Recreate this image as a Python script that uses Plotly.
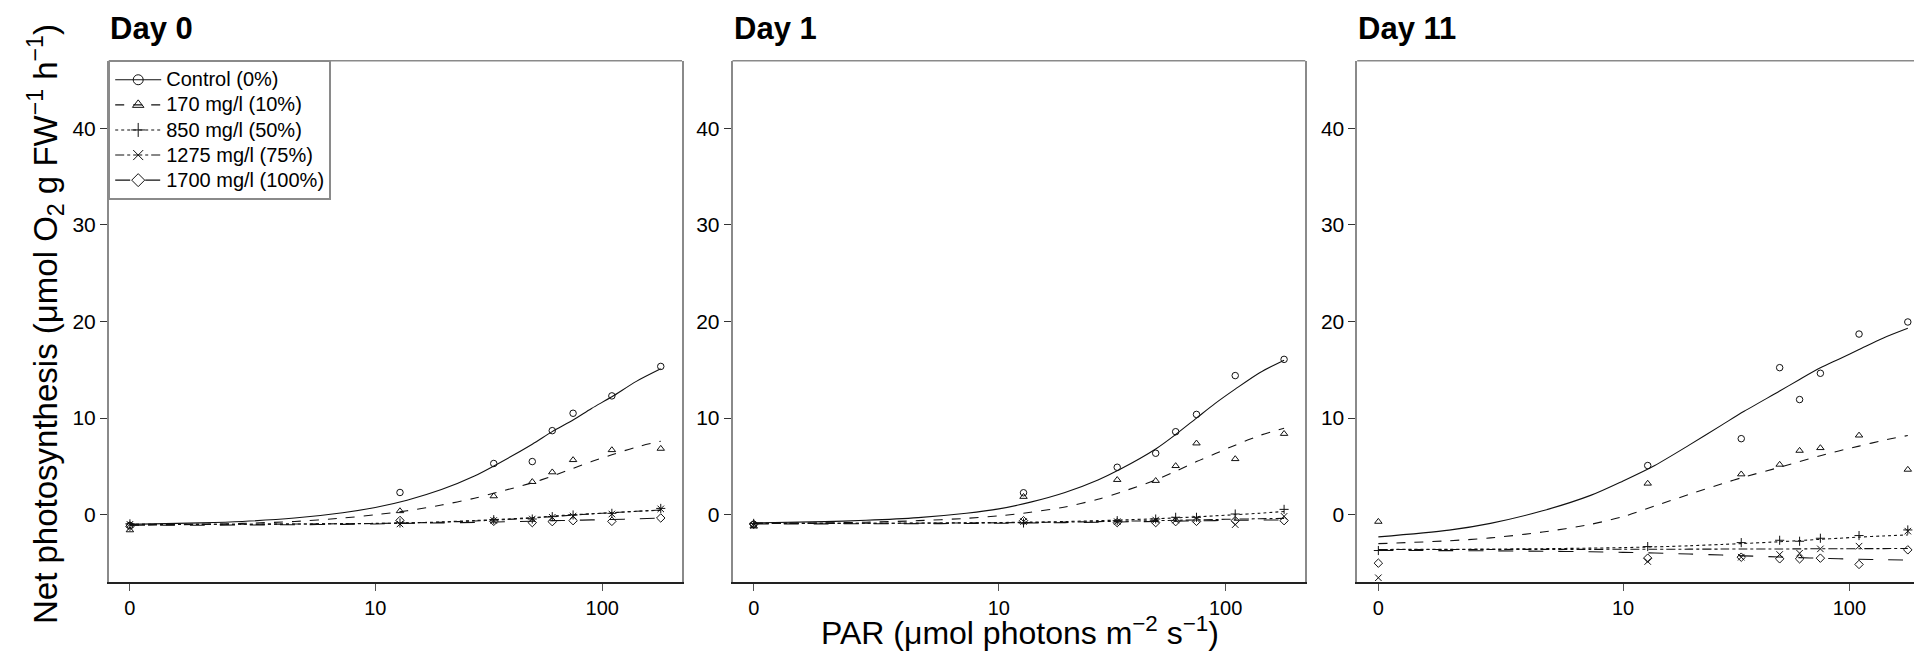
import plotly.graph_objects as go

# ---------------- data ----------------
DAYS = ["Day 0", "Day 1", "Day 11"]
SERIES = ["Control (0%)", "170 mg/l (10%)", "850 mg/l (50%)", "1275 mg/l (75%)", "1700 mg/l (100%)"]

# measured PAR levels (µmol photons m-2 s-1)
PAR_PTS = [0, 13, 34, 50, 61, 75, 110, 178]
# PAR levels at which the fitted curves are read
PAR_FIT = [0, 1, 2, 4, 7, 10, 14, 20, 28, 35, 50, 61, 75, 90, 110, 140, 178]

# observed net photosynthesis
d0_control = [-1.1, 2.3, 5.3, 5.5, 8.7, 10.5, 12.3, 15.35]
d0_c170 = [-1.6, 0.38, 1.92, 3.4, 4.4, 5.67, 6.7, 6.84]
d0_c850 = [-0.95, -0.86, -0.52, -0.45, -0.2, -0.03, 0.14, 0.65]
d0_c1275 = [-1.0, -0.96, -0.6, -0.45, -0.27, -0.14, 0.07, 0.6]
d0_c1700 = [-1.2, -0.6, -0.69, -0.82, -0.72, -0.62, -0.69, -0.34]

d1_control = [-1.0, 2.27, 4.91, 6.36, 8.59, 10.38, 14.4, 16.08]
d1_c170 = [-1.2, 1.86, 3.61, 3.51, 5.05, 7.39, 5.77, 8.38]
d1_c850 = [-0.9, -0.86, -0.62, -0.45, -0.27, -0.27, 0.07, 0.55]
d1_c1275 = [-1.1, -0.72, -0.72, -0.55, -0.55, -0.45, -1.03, -0.17]
d1_c1700 = [-1.0, -0.62, -0.82, -0.82, -0.72, -0.69, -0.62, -0.62]

d11_control = [None, 5.09, 7.87, 15.22, 11.92, 14.64, 18.7, 19.95]
d11_c170 = [-0.72, 3.23, 4.19, 5.19, 6.63, 6.91, 8.21, 4.67]
d11_c850 = [-3.71, -3.3, -2.89, -2.65, -2.75, -2.44, -2.16, -1.58]
d11_c1275 = [-6.53, -4.85, -4.4, -4.12, -3.99, -3.54, -3.26, -1.7]
d11_c1700 = [-5.02, -4.5, -4.4, -4.57, -4.57, -4.5, -5.15, -3.64]

# fitted curves
f0_control = [-1.0, -0.85, -0.7, -0.35, 0.2, 0.75, 1.5, 2.6, 4.0, 5.2, 7.3, 8.6, 9.8, 11.0, 12.2, 13.8, 15.1]
f0_c170 = [-1.1, -1.0, -0.9, -0.7, -0.35, 0.0, 0.4, 1.0, 1.7, 2.3, 3.3, 4.0, 4.8, 5.5, 6.2, 7.0, 7.6]
f0_c850 = [-1.0, -1.0, -0.99, -0.97, -0.93, -0.9, -0.85, -0.75, -0.6, -0.5, -0.3, -0.15, 0.0, 0.1, 0.2, 0.35, 0.45]
f0_c1275 = [-1.0, -1.0, -0.99, -0.97, -0.94, -0.91, -0.86, -0.78, -0.65, -0.55, -0.35, -0.2, -0.05, 0.08, 0.2, 0.35, 0.48]
f0_c1700 = [-1.1, -1.09, -1.07, -1.04, -1.0, -0.96, -0.9, -0.85, -0.8, -0.75, -0.68, -0.62, -0.58, -0.54, -0.5, -0.43, -0.35]

f1_control = [-0.85, -0.72, -0.58, -0.3, 0.15, 0.6, 1.3, 2.3, 3.6, 4.7, 6.8, 8.3, 10.0, 11.5, 13.0, 14.7, 16.0]
f1_c170 = [-0.9, -0.85, -0.78, -0.62, -0.38, -0.12, 0.25, 0.8, 1.6, 2.3, 3.6, 4.5, 5.5, 6.3, 7.2, 8.2, 8.95]
f1_c850 = [-0.9, -0.9, -0.89, -0.87, -0.84, -0.81, -0.77, -0.71, -0.62, -0.55, -0.42, -0.33, -0.22, -0.12, 0.0, 0.15, 0.33]
f1_c1275 = [-0.9, -0.9, -0.89, -0.88, -0.86, -0.84, -0.81, -0.77, -0.72, -0.68, -0.62, -0.58, -0.54, -0.5, -0.46, -0.42, -0.38]
f1_c1700 = [-0.95, -0.95, -0.94, -0.93, -0.91, -0.89, -0.86, -0.82, -0.78, -0.75, -0.7, -0.67, -0.64, -0.61, -0.58, -0.56, -0.54]

f11_control = [-2.3, -1.6, -0.9, 0.4, 2.0, 3.5, 5.1, 7.2, 9.3, 10.7, 12.8, 14.0, 15.2, 16.1, 17.1, 18.3, 19.3]
f11_c170 = [-3.0, -2.7, -2.4, -1.8, -1.0, -0.2, 0.9, 2.1, 3.2, 3.9, 4.9, 5.5, 6.1, 6.6, 7.1, 7.7, 8.2]
f11_c850 = [-3.6, -3.58, -3.56, -3.52, -3.46, -3.41, -3.33, -3.22, -3.08, -2.98, -2.8, -2.68, -2.55, -2.44, -2.32, -2.2, -2.1]
f11_c1275 = [-3.6, -3.6, -3.6, -3.59, -3.59, -3.58, -3.58, -3.57, -3.56, -3.56, -3.55, -3.54, -3.53, -3.53, -3.52, -3.51, -3.5]
f11_c1700 = [-3.7, -3.72, -3.74, -3.78, -3.84, -3.9, -3.97, -4.07, -4.18, -4.26, -4.38, -4.45, -4.51, -4.56, -4.61, -4.66, -4.7]

X_TICK_VALS = [0, 10, 100]
Y_TICK_VALS = [0, 10, 20, 30, 40]

OBS = [
    [d0_control, d0_c170, d0_c850, d0_c1275, d0_c1700],
    [d1_control, d1_c170, d1_c850, d1_c1275, d1_c1700],
    [d11_control, d11_c170, d11_c850, d11_c1275, d11_c1700],
]
FIT = [
    [f0_control, f0_c170, f0_c850, f0_c1275, f0_c1700],
    [f1_control, f1_c170, f1_c850, f1_c1275, f1_c1700],
    [f11_control, f11_c170, f11_c850, f11_c1275, f11_c1700],
]

# ---------------- style ----------------
FONT = "Liberation Sans, Arial, sans-serif"
SYMBOLS = ["circle-open", "triangle-up-open", "cross-thin-open", "x-thin-open", "diamond-open"]
DASHES = ["solid", "dash", "dot", "dashdot", "longdash"]
LINE_COL = "#111111"
BOX_COL = "#8a8a8a"

W, H = 1922, 651
X_DOMAINS = [(100.7 / W, 674.0 / W), (724.5 / W, 1297.3 / W), (1349.2 / W, 1921.0 / W)]
Y_DOMAIN = (1 - 574.3 / H, 1 - 52.7 / H)


def pseudo(v):
    # PAR plotted on a log axis with an offset of 1 so that 0 sits at the origin
    return [p + 1 for p in v]


fig = go.Figure()

for d in range(3):
    xa = "x" if d == 0 else f"x{d + 1}"
    ya = "y" if d == 0 else f"y{d + 1}"
    for s in range(5):
        fig.add_trace(go.Scatter(
            x=pseudo(PAR_FIT), y=FIT[d][s], mode="lines", xaxis=xa, yaxis=ya,
            line=dict(color=LINE_COL, width=1.1, dash=DASHES[s], shape="spline", smoothing=0.8),
            showlegend=False, hoverinfo="skip"))
        fig.add_trace(go.Scatter(
            x=pseudo(PAR_PTS), y=OBS[d][s], mode="markers", xaxis=xa, yaxis=ya,
            marker=dict(symbol=SYMBOLS[s], size=6.5, color=LINE_COL, line=dict(width=1, color=LINE_COL)),
            showlegend=False))

# legend entries (line + symbol samples)
for s in range(5):
    fig.add_trace(go.Scatter(
        x=[None], y=[None], mode="lines+markers",
        name=f'<span style="font-size:20px">{SERIES[s]}</span>',
        line=dict(color=LINE_COL, width=1.1, dash=DASHES[s]),
        marker=dict(symbol=SYMBOLS[s], size=10, color=LINE_COL, line=dict(width=1, color=LINE_COL)),
        showlegend=True))

axis_font = dict(family=FONT, size=20, color="black")
layout = dict(
    width=W, height=H,
    margin=dict(l=0, r=0, t=0, b=0),
    paper_bgcolor="white", plot_bgcolor="white",
    font=dict(family=FONT, color="black"),
    showlegend=True,
    legend=dict(
        x=X_DOMAINS[0][0], y=Y_DOMAIN[1], xanchor="left", yanchor="top",
        bgcolor="white", bordercolor=BOX_COL, borderwidth=1.5,
        font=dict(family=FONT, size=17, color="black"),
        itemsizing="trace", tracegroupgap=0, itemwidth=46,
    ),
)

shapes = []
annotations = []
for d in range(3):
    xkey = "xaxis" if d == 0 else f"xaxis{d + 1}"
    ykey = "yaxis" if d == 0 else f"yaxis{d + 1}"
    xref = "x" if d == 0 else f"x{d + 1}"
    yref = "y" if d == 0 else f"y{d + 1}"
    layout[xkey] = dict(
        domain=list(X_DOMAINS[d]), anchor=yref, type="log", range=[-0.09, 2.343],
        tickvals=pseudo(X_TICK_VALS), ticktext=[str(v) for v in X_TICK_VALS],
        ticks="outside", ticklen=7, tickwidth=1, tickcolor="#555",
        showline=True, linecolor="#222", linewidth=1.5, mirror=False,
        showgrid=False, zeroline=False, tickfont=axis_font,
    )
    layout[ykey] = dict(
        domain=list(Y_DOMAIN), anchor=xref, range=[-7, 47],
        tickvals=Y_TICK_VALS, ticktext=[str(v) for v in Y_TICK_VALS],
        ticks="outside", ticklen=7, tickwidth=1, tickcolor="#333",
        showline=True, linecolor=BOX_COL, linewidth=1.5, mirror=True,
        showgrid=False, zeroline=False, tickfont=dict(family=FONT, size=21, color="black"),
    )
    shapes.append(dict(type="line", xref=f"{xref} domain", yref=f"{yref} domain",
                       x0=0, x1=1, y0=1, y1=1, line=dict(color=BOX_COL, width=1.5)))
    annotations.append(dict(
        text=f"<b>{DAYS[d]}</b>", xref="paper", yref="paper",
        x=X_DOMAINS[d][0] - 1 / W, y=1 - 21 / H, xanchor="left", yanchor="middle",
        showarrow=False, font=dict(family=FONT, size=31, color="black")))

annotations.append(dict(
    text="Net photosynthesis (μmol O<sub>2</sub> g FW<sup>−1</sup> h<sup>−1</sup>)",
    xref="paper", yref="paper", x=37 / W, y=1 - 316 / H, xanchor="center", yanchor="middle",
    textangle=-90, showarrow=False, font=dict(family=FONT, size=33, color="black")))
annotations.append(dict(
    text="PAR (μmol photons m<sup>−2</sup> s<sup>−1</sup>)",
    xref="paper", yref="paper", x=1012 / W, y=1 - 623 / H, xanchor="center", yanchor="middle",
    showarrow=False, font=dict(family=FONT, size=32, color="black")))

layout["shapes"] = shapes
layout["annotations"] = annotations
fig.update_layout(**layout)

fig.write_html("out.html")
